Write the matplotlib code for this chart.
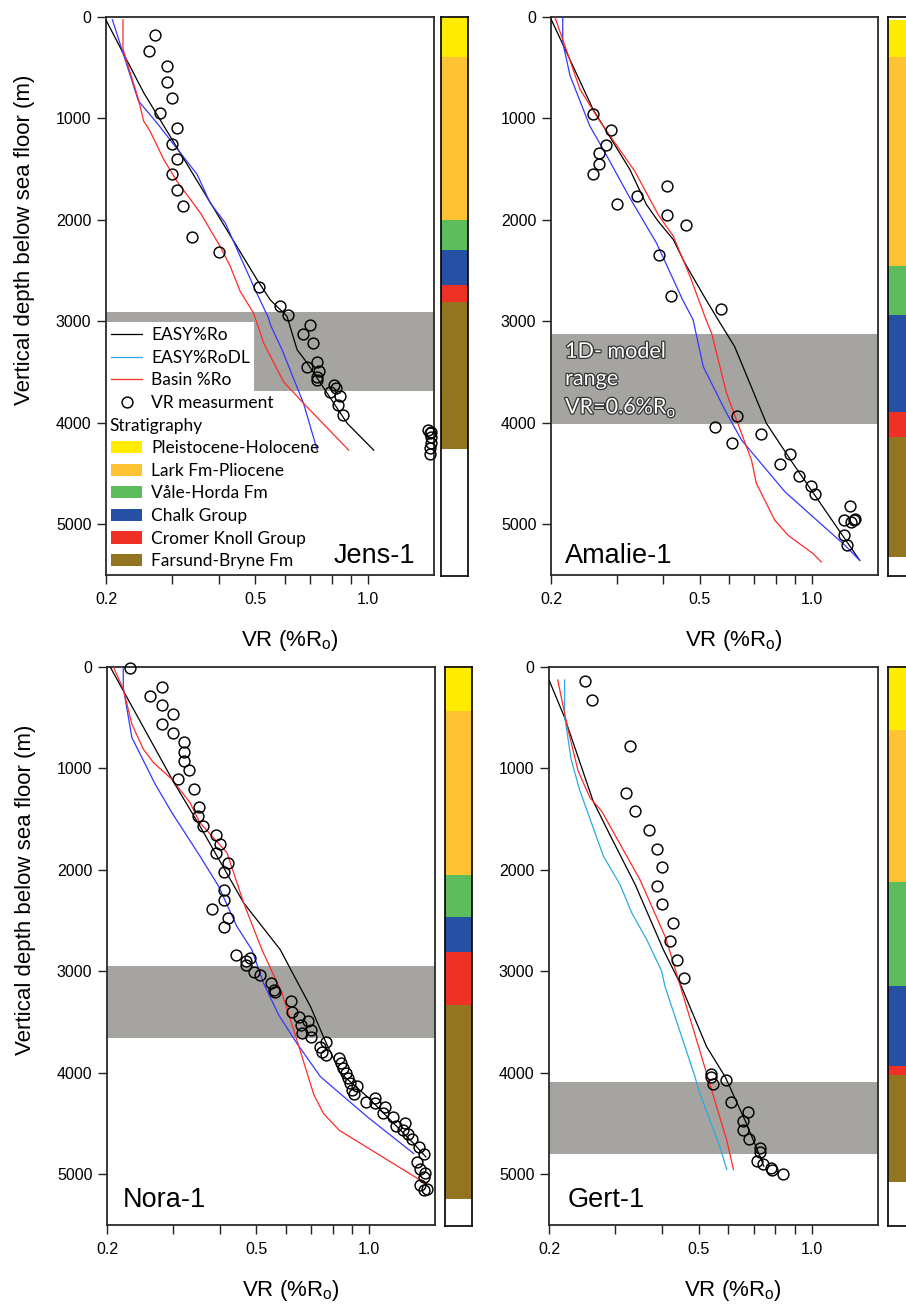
import matplotlib
matplotlib.use("Agg")
import matplotlib.pyplot as plt
from matplotlib.lines import Line2D
from matplotlib.patches import Patch, Rectangle
import matplotlib.patheffects as pe

plt.rcParams['font.family'] = ['Liberation Sans', 'DejaVu Sans']
plt.rcParams['mathtext.fontset'] = 'custom'
plt.rcParams['mathtext.rm'] = 'Liberation Sans'
plt.rcParams['mathtext.it'] = 'Liberation Sans'

# ---------------- data ----------------
x_ticks_major = [0.2, 0.5, 1.0]
x_tick_labels = ["0.2", "0.5", "1.0"]
x_ticks_minor = [0.3, 0.4, 0.6, 0.7, 0.8, 0.9]
y_ticks = [0, 1000, 2000, 3000, 4000, 5000]

strat_names = ["Pleistocene-Holocene", "Lark Fm-Pliocene", "Våle-Horda Fm",
               "Chalk Group", "Cromer Knoll Group", "Farsund-Bryne Fm"]
strat_colors = ["#FFEC00", "#FFC232", "#5DBD5D", "#2650A4", "#EE3124", "#937421"]

# Jens-1
jens_easy_vr = [0.200, 0.252, 0.506, 0.549, 0.608, 0.647, 0.688, 0.880, 1.036]
jens_easy_depth = [30, 745, 2590, 2790, 2950, 3280, 3410, 4005, 4270]
jens_dl_vr = [0.208, 0.244, 0.273, 0.350, 0.379, 0.416, 0.456, 0.500, 0.543, 0.549, 0.590, 0.673, 0.732]
jens_dl_depth = [27, 827, 1041, 1551, 1831, 2029, 2359, 2688, 2968, 3034, 3281, 3808, 4269]
jens_basin_vr = [0.222, 0.222, 0.244, 0.252, 0.262, 0.285, 0.309, 0.357, 0.403, 0.429, 0.456, 0.495, 0.527, 0.595, 0.673, 0.888]
jens_basin_depth = [27, 316, 810, 1025, 1123, 1403, 1617, 1930, 2260, 2457, 2704, 2918, 3215, 3594, 3808, 4269]
jens_meas_vr = [0.270, 0.260, 0.291, 0.291, 0.300, 0.279, 0.310, 0.300, 0.310, 0.300, 0.310, 0.321, 0.340,
                0.400, 0.511, 0.581, 0.612, 0.702, 0.671, 0.714, 0.732, 0.688, 0.740, 0.732, 0.730, 0.810,
                0.820, 0.794, 0.840, 0.830, 0.856, 1.45, 1.47, 1.46, 1.47, 1.47, 1.46, 1.46]
jens_meas_depth = [178, 333, 487, 639, 794, 942, 1097, 1255, 1403, 1551, 1709, 1858, 2164,
                   2319, 2661, 2846, 2935, 3034, 3123, 3215, 3396, 3446, 3485, 3544, 3577, 3626,
                   3659, 3693, 3735, 3824, 3923, 4071, 4088, 4104, 4137, 4203, 4252, 4308]
jens_band = [2905, 3690]
jens_strat_tops = [0, 392, 1996, 2292, 2638, 2803]
jens_strat_bases = [392, 1996, 2292, 2638, 2803, 4249]

# Amalie-1
amalie_easy_vr = [0.199, 0.216, 0.259, 0.325, 0.360, 0.387, 0.425, 0.456, 0.520, 0.560, 0.620, 0.754, 0.888, 1.34]
amalie_easy_depth = [3, 283, 909, 1502, 1848, 2013, 2194, 2424, 2787, 2984, 3248, 4005, 4400, 5356]
amalie_dl_vr = [0.215, 0.215, 0.225, 0.254, 0.279, 0.325, 0.383, 0.450, 0.480, 0.511, 0.584, 0.647, 0.846, 1.224, 1.34]
amalie_dl_depth = [3, 250, 580, 1074, 1337, 1782, 2227, 2787, 2984, 3446, 3874, 4170, 4681, 5208, 5356]
amalie_basin_vr = [0.205, 0.239, 0.270, 0.335, 0.387, 0.425, 0.471, 0.520, 0.538, 0.590, 0.688, 0.709, 0.794, 0.862, 1.006, 1.058]
amalie_basin_depth = [3, 711, 1025, 1519, 1947, 2161, 2556, 2984, 3116, 3709, 4368, 4598, 4960, 5109, 5290, 5372]
amalie_meas_vr = [0.259, 0.289, 0.280, 0.269, 0.269, 0.259, 0.410, 0.339, 0.300, 0.410, 0.459, 0.390,
                  0.420, 0.569, 0.631, 0.551, 0.610, 0.728, 0.872, 0.818, 0.922, 0.990, 1.02, 1.26,
                  1.216, 1.27, 1.29, 1.30, 1.216, 1.24]
amalie_meas_depth = [958, 1117, 1265, 1344, 1446, 1545, 1667, 1766, 1848, 1947, 2049, 2349,
                     2747, 2879, 3930, 4041, 4197, 4114, 4305, 4404, 4523, 4618, 4704, 4819,
                     4954, 4977, 4960, 4944, 5109, 5201]
amalie_band = [3120, 4010]
amalie_strat_tops = [30, 392, 2447, 2935, 3890, 4130]
amalie_strat_bases = [392, 2447, 2935, 3890, 4130, 5313]

# Nora-1
nora_easy_vr = [0.204, 0.300, 0.354, 0.463, 0.580, 0.629, 0.698, 0.766, 0.840, 0.990, 1.316, 1.418]
nora_easy_depth = [0, 1123, 1568, 2325, 2787, 3034, 3347, 3693, 4005, 4236, 4697, 4829]
nora_dl_vr = [0.221, 0.221, 0.233, 0.269, 0.298, 0.354, 0.397, 0.444, 0.487, 0.523, 0.574, 0.642, 0.742, 0.990, 1.316]
nora_dl_depth = [0, 200, 695, 1156, 1436, 1864, 2161, 2556, 2787, 3116, 3429, 3709, 4038, 4434, 4796]
nora_basin_vr = [0.208, 0.221, 0.233, 0.250, 0.266, 0.298, 0.333, 0.354, 0.418, 0.463, 0.518, 0.586, 0.642, 0.713, 0.756, 0.832, 1.418]
nora_basin_depth = [0, 217, 563, 810, 942, 1107, 1337, 1535, 1831, 2325, 2787, 3215, 3676, 4219, 4400, 4565, 5092]
nora_meas_vr = [0.230, 0.280, 0.260, 0.280, 0.300, 0.280, 0.300, 0.321, 0.321, 0.320, 0.331, 0.310,
                0.341, 0.351, 0.349, 0.360, 0.390, 0.401, 0.390, 0.420, 0.411, 0.411, 0.411, 0.381,
                0.420, 0.411, 0.442, 0.482, 0.470, 0.470, 0.492, 0.513, 0.549, 0.557, 0.560, 0.620,
                0.625, 0.650, 0.688, 0.660, 0.700, 0.664, 0.700, 0.770, 0.740, 0.750, 0.770, 0.830,
                0.840, 0.850, 0.870, 0.880, 0.890, 0.930, 0.900, 0.910, 0.980, 1.04, 1.04, 1.10,
                1.09, 1.16, 1.25, 1.18, 1.23, 1.27, 1.30, 1.36, 1.40, 1.34, 1.37, 1.41, 1.40,
                1.37, 1.43, 1.40]
nora_meas_depth = [10, 194, 287, 375, 468, 563, 655, 744, 833, 926, 1018, 1107,
                   1199, 1380, 1469, 1568, 1657, 1749, 1838, 1930, 2023, 2200, 2292, 2384,
                   2473, 2566, 2839, 2869, 2902, 2935, 3011, 3034, 3116, 3182, 3208, 3297,
                   3396, 3446, 3488, 3528, 3577, 3610, 3650, 3693, 3742, 3791, 3824, 3857,
                   3906, 3956, 4005, 4054, 4104, 4130, 4170, 4210, 4285, 4252, 4302, 4335,
                   4400, 4434, 4493, 4526, 4565, 4605, 4648, 4736, 4796, 4878, 4944, 4987, 5026,
                   5109, 5141, 5158]
nora_band = [2945, 3655]
nora_strat_tops = [0, 435, 2045, 2457, 2803, 3330]
nora_strat_bases = [435, 2045, 2457, 2803, 3330, 5237]

# Gert-1
gert_easy_vr = [0.200, 0.220, 0.262, 0.290, 0.339, 0.403, 0.446, 0.525, 0.588, 0.670, 0.729, 0.745]
gert_easy_depth = [128, 497, 1321, 1650, 2144, 2787, 3116, 3742, 4038, 4499, 4829, 4920]
gert_dl_vr = [0.220, 0.220, 0.229, 0.241, 0.279, 0.309, 0.332, 0.364, 0.399, 0.407, 0.489, 0.500, 0.570, 0.594]
gert_dl_depth = [128, 481, 909, 1206, 1864, 2144, 2424, 2688, 3000, 3149, 4038, 4170, 4730, 4954]
gert_basin_vr = [0.211, 0.224, 0.239, 0.257, 0.276, 0.349, 0.407, 0.418, 0.594, 0.619]
gert_basin_depth = [128, 596, 1024, 1288, 1420, 2095, 2655, 2787, 4664, 4954]
gert_meas_vr = [0.249, 0.260, 0.329, 0.320, 0.339, 0.369, 0.388, 0.400, 0.388, 0.400, 0.428, 0.420,
                0.439, 0.458, 0.539, 0.540, 0.591, 0.545, 0.610, 0.676, 0.658, 0.658, 0.680, 0.729,
                0.729, 0.714, 0.740, 0.780, 0.785, 0.838]
gert_meas_depth = [142, 323, 777, 1239, 1423, 1604, 1789, 1973, 2154, 2335, 2523, 2705,
                   2885, 3066, 4012, 4038, 4071, 4114, 4292, 4384, 4473, 4565, 4657, 4740,
                   4779, 4868, 4901, 4934, 4960, 4993]
gert_band = [4090, 4800]
gert_strat_tops = [0, 623, 2111, 3139, 3923, 4012]
gert_strat_bases = [623, 2111, 3139, 3923, 4012, 5066]

# ---------------- style ----------------
W, H = 906, 1306
C_EASY = "black"
C_BLUE = "#3636FF"
C_CYAN = "#29ABE2"
C_BASIN = "#FF2A2A"
C_BAND = "#A5A4A0"
YMAX = 5500
LEG_FONT = ['Lato', 'DejaVu Sans']

fig = plt.figure(figsize=(W / 100, H / 100), dpi=100)


def rect(x0, x1, y0, y1):
    return [x0 / W, 1 - y1 / H, (x1 - x0) / W, (y1 - y0) / H]


def make_panel(pos, barpos, easy, dl, basin, meas, band, tops, bases, dl_color, ylabel):
    ax = fig.add_axes(rect(*pos))
    ax.axhspan(band[0], band[1], color=C_BAND, lw=0, zorder=1)
    ax.plot(easy[0], easy[1], color=C_EASY, lw=0.9, zorder=3)
    ax.plot(dl[0], dl[1], color=dl_color, lw=0.9, zorder=3)
    ax.plot(basin[0], basin[1], color=C_BASIN, lw=0.9, zorder=3)
    ax.plot(meas[0], meas[1], linestyle='none', marker='o', ms=7.8, mfc='none',
            mec='black', mew=1.05, zorder=4, clip_on=False)
    ax.set_xscale('log')
    ax.set_xlim(0.2, 1.5)
    ax.set_ylim(YMAX, 0)
    ax.set_xticks(x_ticks_major)
    ax.set_xticklabels(x_tick_labels)
    ax.set_xticks(x_ticks_minor, minor=True)
    ax.xaxis.set_minor_formatter(plt.NullFormatter())
    ax.set_yticks(y_ticks)
    ax.set_yticklabels([str(v) for v in y_ticks])
    ax.tick_params(axis='both', which='both', direction='out', length=6.5, width=1.0,
                   labelsize=11.5, color='#222222')
    ax.tick_params(axis='x', which='major', pad=6)
    ax.tick_params(axis='y', which='major', pad=4)
    for s in ax.spines.values():
        s.set_linewidth(1.3)
        s.set_color('#2a2a2a')
    ax.set_xlabel("VR (%R$_{\\mathrm{o}}$)", fontsize=16)
    ax.xaxis.set_label_coords(0.56, -0.095)
    if ylabel:
        ax.set_ylabel("Vertical depth below sea floor (m)", fontsize=16)
        ax.yaxis.set_label_coords(-0.215, 0.60)

    bx = fig.add_axes(rect(*barpos))
    bx.set_xlim(0, 1)
    bx.set_ylim(YMAX, 0)
    bx.bar([0.5] * len(tops), [b - t for t, b in zip(tops, bases)], bottom=tops,
           width=1.0, color=strat_colors, lw=0)
    bx.set_xticks([])
    bx.set_yticks([])
    for s in bx.spines.values():
        s.set_linewidth(1.2)
        s.set_color('black')
    return ax


ax1 = make_panel((106, 434, 17, 575), (441, 468, 17, 576),
                 (jens_easy_vr, jens_easy_depth), (jens_dl_vr, jens_dl_depth),
                 (jens_basin_vr, jens_basin_depth), (jens_meas_vr, jens_meas_depth),
                 jens_band, jens_strat_tops, jens_strat_bases, C_BLUE, True)
ax2 = make_panel((551, 878, 17, 575), (888, 915, 17, 576),
                 (amalie_easy_vr, amalie_easy_depth), (amalie_dl_vr, amalie_dl_depth),
                 (amalie_basin_vr, amalie_basin_depth), (amalie_meas_vr, amalie_meas_depth),
                 amalie_band, amalie_strat_tops, amalie_strat_bases, C_BLUE, False)
ax3 = make_panel((107, 435, 667, 1225), (445, 472, 667, 1226),
                 (nora_easy_vr, nora_easy_depth), (nora_dl_vr, nora_dl_depth),
                 (nora_basin_vr, nora_basin_depth), (nora_meas_vr, nora_meas_depth),
                 nora_band, nora_strat_tops, nora_strat_bases, C_BLUE, True)
ax4 = make_panel((549, 878, 667, 1225), (888, 915, 667, 1226),
                 (gert_easy_vr, gert_easy_depth), (gert_dl_vr, gert_dl_depth),
                 (gert_basin_vr, gert_basin_depth), (gert_meas_vr, gert_meas_depth),
                 gert_band, gert_strat_tops, gert_strat_bases, C_CYAN, False)

# white legend background over the band in Jens-1
ax1.add_patch(Rectangle((0, 0), 0.451, 0.4534, transform=ax1.transAxes,
                        facecolor='white', edgecolor='none', zorder=1.5))

handles = [Line2D([], [], color=C_EASY, lw=0.9),
           Line2D([], [], color=C_CYAN, lw=0.9),
           Line2D([], [], color=C_BASIN, lw=0.9),
           Line2D([], [], linestyle='none', marker='o', ms=7.8, mfc='none', mec='black', mew=1.05),
           Line2D([], [], linestyle='none')]
handles += [Patch(facecolor=c, edgecolor='none') for c in strat_colors]
labels = ["EASY%Ro", "EASY%RoDL", "Basin %Ro", "VR measurment", " "] + strat_names
leg = ax1.legend(handles, labels, loc='upper left', bbox_to_anchor=(0.0, 0.4534),
                 frameon=False, handlelength=1.8, handleheight=0.7,
                 handletextpad=0.5, labelspacing=0.38, borderpad=0.3, borderaxespad=0.0,
                 prop={'family': LEG_FONT, 'size': 12.5})
leg.set_zorder(5)

# "Stratigraphy" heading aligned with the handle column
fig.canvas.draw()
renderer = fig.canvas.get_renderer()
row_bb = leg.get_texts()[4].get_window_extent(renderer)
patch_bb = leg.legend_handles[5].get_window_extent(renderer)
inv = fig.transFigure.inverted()
hx, _ = inv.transform((patch_bb.x0 - 2, 0))
_, hy = inv.transform((0, (row_bb.y0 + row_bb.y1) / 2))
fig.text(hx, hy, "Stratigraphy", ha='left', va='center', family=LEG_FONT, fontsize=12.5, zorder=6)

# panel names
ax1.text(0.942, 0.0215, "Jens-1", transform=ax1.transAxes, ha='right', va='baseline', fontsize=19.5, zorder=6)
ax2.text(0.043, 0.0215, "Amalie-1", transform=ax2.transAxes, ha='left', va='baseline', fontsize=19.5, zorder=6)
ax3.text(0.049, 0.032, "Nora-1", transform=ax3.transAxes, ha='left', va='baseline', fontsize=19.5, zorder=6)
ax4.text(0.058, 0.032, "Gert-1", transform=ax4.transAxes, ha='left', va='baseline', fontsize=19.5, zorder=6)

ax2.text(0.043, 0.418, "1D- model\nrange\nVR=0.6%R$_{\\mathrm{o}}$", transform=ax2.transAxes,
         ha='left', va='top', fontsize=15.5, color='white', linespacing=1.45,
         family=LEG_FONT, zorder=6,
         path_effects=[pe.withStroke(linewidth=1.8, foreground='#333333')])

fig.savefig("out.png", dpi=100)
